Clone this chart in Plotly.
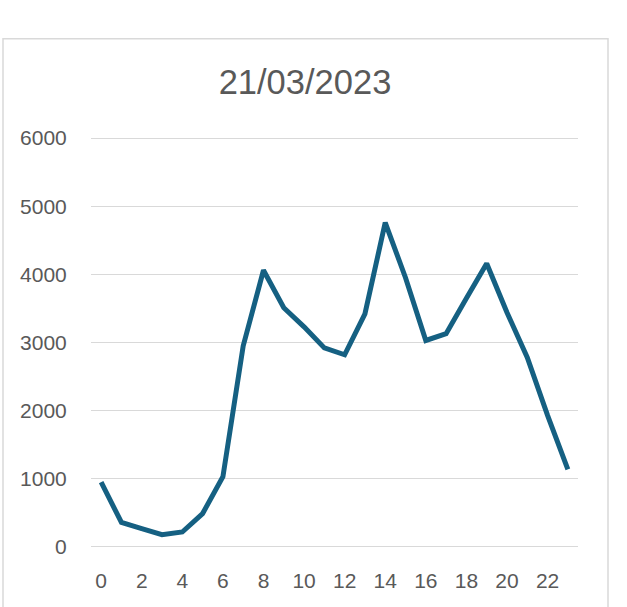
import plotly.graph_objects as go

hours = list(range(24))
values = [950, 360, 270, 180, 220, 490, 1030, 2950, 4060, 3510, 3230, 2920,
          2820, 3420, 4760, 3950, 3030, 3130, 3650, 4160, 3440, 2780, 1930, 1140]
title_text = "21/03/2023"
x_ticks = list(range(0, 24, 2))
y_ticks = [0, 1000, 2000, 3000, 4000, 5000, 6000]

W, H = 627, 607
# y range padded slightly so the 0 and 6000 gridlines are drawn
Y0, Y1 = -15, 6015
px_per_unit = 409.0 / 6000
L = 91
R = W - 578
T = 137.7 - (Y1 - 6000) * px_per_unit
B = H - (546.7 + (0 - Y0) * px_per_unit)
pw, ph = W - L - R, H - T - B

fig = go.Figure()
fig.add_trace(go.Scatter(
    x=hours, y=values, mode="lines",
    line=dict(color="#156082", width=5, shape="linear"),
    hoverinfo="x+y", showlegend=False,
))

fig.update_layout(
    width=W, height=H,
    margin=dict(l=L, r=R, t=T, b=B, pad=0),
    paper_bgcolor="white", plot_bgcolor="white",
    font=dict(family="Liberation Sans, Arial, sans-serif", color="#595959"),
    title=dict(
        text=title_text,
        font=dict(size=34.5, color="#595959", family="Liberation Sans, Arial, sans-serif"),
        xref="paper", x=(305 - L) / pw, xanchor="center",
        yref="container", y=1 - 82 / H, yanchor="middle",
    ),
    xaxis=dict(
        range=[-0.5, 23.5], tickmode="array", tickvals=x_ticks,
        ticktext=[str(v) for v in x_ticks],
        showgrid=False, zeroline=False, showline=False,
        ticks="outside", ticklen=14, tickcolor="rgba(0,0,0,0)",
        tickfont=dict(size=21, color="#595959"),
        fixedrange=True,
    ),
    yaxis=dict(
        range=[Y0, Y1], tickmode="array", tickvals=y_ticks,
        ticktext=[str(v) for v in y_ticks],
        showgrid=True, gridcolor="#d9d9d9", gridwidth=1.4,
        zeroline=False, showline=False,
        ticks="outside", ticklen=19, tickcolor="rgba(0,0,0,0)",
        tickfont=dict(size=21, color="#595959"),
        fixedrange=True,
    ),
    shapes=[dict(
        type="rect", xref="paper", yref="paper",
        x0=(3 - L) / pw, x1=(608 - L) / pw,
        y0=-0.3, y1=(H - B - 38.5) / ph,
        line=dict(color="#d9d9d9", width=1.5), fillcolor="rgba(0,0,0,0)",
        layer="below",
    )],
)

fig.write_html(
    "out.html",
    config={"displayModeBar": False},
    post_script="document.body.style.margin='0';document.body.style.overflow='hidden';",
)
